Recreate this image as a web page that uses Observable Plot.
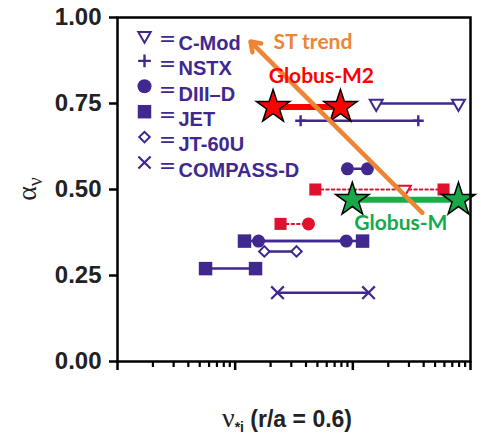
<!DOCTYPE html>
<html><head><meta charset="utf-8">
<script src="https://cdn.jsdelivr.net/npm/d3@7"></script>
<script src="https://cdn.jsdelivr.net/npm/@observablehq/plot@0.6"></script>
<style>body{margin:0;background:#fff}</style>
</head><body><div id="chart"></div>
<script>
// ---- data (x = nu*_i at r/a=0.6, y = alpha_nu) ----
const cmodX = [0.158, 0.79];     const cmodY = 0.75;
const nstxX = [0.036, 0.36];     const nstxY = 0.70;
const diiidHiX = [0.09, 0.133];  const diiidHiY = 0.56;
const diiidLoX = [0.0158, 0.088];const diiidLoY = 0.35;
const jetHiX = [0.012, 0.121];   const jetHiY = 0.35;
const jetLoX = [0.0056, 0.0149]; const jetLoY = 0.27;
const jt60uX = [0.0177, 0.0332]; const jt60uY = 0.32;
const compassX = [0.0229, 0.136];const compassY = 0.20;
// red (highlighted) points
const redSqX = [0.048, 0.59];    const redSqY = 0.50;
const redTriX = [0.274];         const redTriY = 0.50;
const redSq2X = [0.0243];        const redCircX = [0.042]; const redLowY = 0.40;
// Globus
const globusM2X = [0.021, 0.0785]; const globusM2Y = 0.74;
const globusMX = [0.099, 0.79];    const globusMY = 0.47;
// ST trend arrow
const trendFrom = [0.39, 0.432];
const trendTo = [0.0135, 0.93];
// ticks
const yTicks = [0, 0.25, 0.5, 0.75, 1];
const xMajor = [0.001, 0.01, 0.1, 1];
const xMajorLabels = ["0.001", "0.01", "0.1", "1"];
const xMinor = [2,3,4,5,6,7,8,9].flatMap(m => [0.001, 0.01, 0.1].map(d => +(m*d).toPrecision(3)));
// legend
const legendNames = ["C-Mod", "NSTX", "DIII\u2013D", "JET", "JT-60U", "COMPASS-D"];
// annotations
const annotations = [
  {x: 0.0458, y: 0.928, text: "ST trend", color: "#ee8535"},
  {x: 0.054, y: 0.829, text: "Globus-M2", color: "#ff0000"},
  {x: 0.256, y: 0.403, text: "Globus-M", color: "#14aa4c"}
];

const purple = "#40288f";
const red = "#e0102e";
const pts = (xs, y) => xs.map(x => ({x, y}));
const seg = (id, xs, y) => xs.map(x => ({id, x, y}));

const purpleSegs = [
  ...seg("cmod", cmodX, cmodY), ...seg("nstx", nstxX, nstxY),
  ...seg("d3h", diiidHiX, diiidHiY), ...seg("lo35", jetHiX, jetHiY),
  ...seg("jetlo", jetLoX, jetLoY), ...seg("jt", jt60uX, jt60uY),
  ...seg("comp", compassX, compassY)
];
const redSegs = [
  ...seg("r5", redSqX, redSqY),
  ...seg("r4", [redSq2X[0], redCircX[0]], redLowY)
];

const legendMarks = [];
const legendSym = [
  {symbol: "triangle", rotate: 180, r: 4.6, fill: "white", stroke: purple, strokeWidth: 2},
  {symbol: "plus", r: 4.2, stroke: purple, strokeWidth: 2.4},
  {symbol: "circle", r: 7, fill: purple},
  {symbol: "square", r: 7.6, fill: purple},
  {symbol: "square", rotate: 45, r: 4.2, fill: "white", stroke: purple, strokeWidth: 2},
  {symbol: "times", r: 5.6, stroke: purple, strokeWidth: 2.2}
];
legendNames.forEach((name, i) => {
  const dy = 18 + i * 25.4;
  legendMarks.push(Plot.text(["\uFF1D"], {frameAnchor: "top-left", dx: 50, dy: dy - 2.5, text: d => d, fill: purple, fontSize: 18, fontWeight: "bold", fontFamily: "Noto Sans CJK SC", textAnchor: "middle"}));
  legendMarks.push(Plot.dot([0], {frameAnchor: "top-left", dx: 27, dy, ...legendSym[i]}));
  legendMarks.push(Plot.text([name], {frameAnchor: "top-left", dx: 61, dy, text: d => d, fill: purple, fontSize: 20, fontWeight: "bold", fontFamily: "Liberation Sans", textAnchor: "start"}));
});

const chart = Plot.plot({
  width: 487, height: 441,
  marginLeft: 117, marginRight: 17, marginTop: 17, marginBottom: 80,
  style: {fontFamily: "Liberation Sans", background: "white"},
  x: {type: "log", domain: [0.001, 1], label: null},
  y: {domain: [0, 1], label: null},
  marks: [
    Plot.axisY(yTicks, {tickSize: 8, tickPadding: 8, strokeWidth: 2.5, tickFormat: d3.format(".2f"), fontSize: 24, fontWeight: "bold", fill: "#222", label: null}),
    Plot.axisX(xMinor, {tickSize: 6, strokeWidth: 2.2, tickFormat: () => "", label: null}),
    Plot.axisX(xMajor, {tickSize: 9, tickPadding: 7, strokeWidth: 2.5, tickFormat: (d, i) => xMajorLabels[i], fontSize: 23, fontWeight: "bold", fill: "#222", label: null}),
    // purple lines and markers
    Plot.line(purpleSegs, {x: "x", y: "y", z: "id", stroke: purple, strokeWidth: 2.5}),
    Plot.line(seg("d3l", diiidLoX, diiidLoY), {x: "x", y: "y", stroke: purple, strokeWidth: 2.5}),
    Plot.dot(pts(jetHiX, jetHiY), {x: "x", y: "y", symbol: "square", r: 7.6, fill: purple}),
    Plot.dot(pts(jetLoX, jetLoY), {x: "x", y: "y", symbol: "square", r: 7.6, fill: purple}),
    Plot.dot(pts(diiidLoX, diiidLoY), {x: "x", y: "y", r: 6.5, fill: purple}),
    Plot.dot(pts(diiidHiX, diiidHiY), {x: "x", y: "y", r: 6.5, fill: purple}),
    Plot.dot(pts(jt60uX, jt60uY), {x: "x", y: "y", symbol: "square", rotate: 45, r: 4.2, fill: "white", stroke: purple, strokeWidth: 2}),
    Plot.dot(pts(compassX, compassY), {x: "x", y: "y", symbol: "times", r: 5.8, stroke: purple, strokeWidth: 2.2}),
    Plot.dot(pts(nstxX, nstxY), {x: "x", y: "y", symbol: "plus", r: 3.6, stroke: purple, strokeWidth: 2.4}),
    Plot.dot(pts(cmodX, cmodY), {x: "x", y: "y", symbol: "triangle", rotate: 180, r: 4.8, fill: "white", stroke: purple, strokeWidth: 2}),
    // red highlighted points
    Plot.line(redSegs, {x: "x", y: "y", z: "id", stroke: red, strokeWidth: 2, strokeDasharray: "2.5,3"}),
    Plot.dot(pts(redSqX, redSqY), {x: "x", y: "y", symbol: "square", r: 6.8, fill: red}),
    Plot.dot(pts(redSq2X, redLowY), {x: "x", y: "y", symbol: "square", r: 6.8, fill: red}),
    Plot.dot(pts(redCircX, redLowY), {x: "x", y: "y", r: 6.5, fill: red}),
    Plot.dot(pts(redTriX, redTriY), {x: "x", y: "y", symbol: "triangle", rotate: 180, r: 4.8, fill: "white", stroke: red, strokeWidth: 2}),
    // Globus
    Plot.line(pts(globusM2X, globusM2Y), {x: "x", y: "y", stroke: "#ff0000", strokeWidth: 6}),
    Plot.line(pts(globusMX, globusMY), {x: "x", y: "y", stroke: "#14b04a", strokeWidth: 6}),
    Plot.dot(pts(globusM2X, globusM2Y), {x: "x", y: "y", symbol: "star", r: 10.5, fill: "#ff0000", stroke: "black", strokeWidth: 1.5}),
    Plot.dot(pts(globusMX, globusMY), {x: "x", y: "y", symbol: "star", r: 10.5, fill: "#18a84a", stroke: "black", strokeWidth: 1.5}),
    Plot.arrow([{x1: trendFrom[0], y1: trendFrom[1], x2: trendTo[0], y2: trendTo[1]}], {x1: "x1", y1: "y1", x2: "x2", y2: "y2", stroke: "#ee8535", strokeWidth: 4.5, headLength: 3.6, headAngle: 70}),
    Plot.text(annotations, {x: "x", y: "y", text: "text", fill: "color", textAnchor: "middle", fontSize: 21, fontWeight: "bold", fontFamily: "Lato"}),
    ...legendMarks,
    Plot.frame({stroke: "black", strokeWidth: 2.5})
  ]
});

const svg = d3.select(chart);
// y-axis label: alpha_nu
const yl = svg.append("text").attr("transform", "translate(36,189) rotate(-90)").attr("text-anchor", "middle").attr("fill", "#222");
yl.append("tspan").attr("font-family", "Liberation Serif").attr("font-size", 28).text("\u03b1");
yl.append("tspan").attr("font-family", "Liberation Serif").attr("font-size", 20).attr("dy", 6).text("\u03bd");
// x-axis label
const xl = svg.append("text").attr("x", 287).attr("y", 427).attr("text-anchor", "middle").attr("fill", "#222");
xl.append("tspan").attr("font-family", "Liberation Serif").attr("font-size", 28).text("\u03bd");
xl.append("tspan").attr("font-family", "Liberation Sans").attr("font-weight", "bold").attr("font-size", 14).attr("dy", 5).text("*i");
xl.append("tspan").attr("font-family", "Liberation Sans").attr("font-weight", "bold").attr("font-size", 23).attr("dy", -5).text(" (r/a = 0.6)");

document.getElementById("chart").appendChild(chart);
</script>
</body></html>
